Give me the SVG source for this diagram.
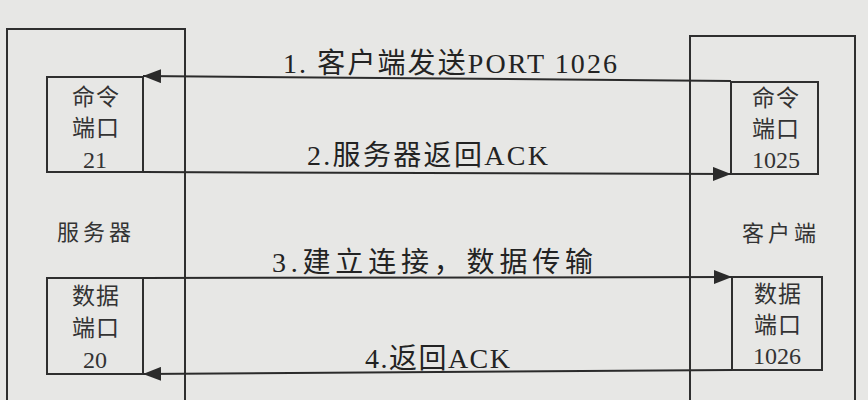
<svg xmlns="http://www.w3.org/2000/svg" width="868" height="400" viewBox="0 0 868 400">
  <defs>
    <marker id="ah" viewBox="0 0 18 14" refX="18" refY="7" markerWidth="18" markerHeight="14" markerUnits="userSpaceOnUse" orient="auto">
      <path d="M0,0 L18,7 L0,14 Z" fill="#2b2b2b"/>
    </marker>
    <style>
      .box { fill: none; stroke: #2f2f2f; stroke-width: 2; }
      .conn { fill: none; stroke: #2b2b2b; stroke-width: 2; marker-end: url(#ah); }
      .port { font-family: "Noto Sans CJK SC", sans-serif; font-size: 23px; fill: #333; text-anchor: middle; letter-spacing: 1px; }
      .num { font-family: "Liberation Serif", serif; font-size: 24px; fill: #333; text-anchor: middle; }
      .name { font-family: "Noto Sans CJK SC", sans-serif; font-size: 22px; fill: #333; letter-spacing: 4px; }
      .lbl { font-family: "Liberation Serif", "Noto Sans CJK SC", serif; font-size: 28px; fill: #232323; }
    </style>
  </defs>
  <rect width="868" height="400" fill="#e7e7e5"/>

  <g id="server">
    <rect class="box" x="7" y="29" width="178" height="400"/>
    <text class="name" x="57" y="240">服务器</text>
  </g>
  <g id="client">
    <rect class="box" x="690" y="36" width="165" height="400"/>
    <text class="name" x="742" y="241">客户端</text>
  </g>

  <g id="server-cmd-port">
    <rect class="box" x="47" y="77" width="96" height="95"/>
    <text class="port" x="96" y="105">命令</text>
    <text class="port" x="96" y="136">端口</text>
    <text class="num" x="95" y="168">21</text>
  </g>
  <g id="client-cmd-port">
    <rect class="box" x="731" y="82" width="87" height="92"/>
    <text class="port" x="776" y="106">命令</text>
    <text class="port" x="776" y="137">端口</text>
    <text class="num" x="776" y="168">1025</text>
  </g>
  <g id="server-data-port">
    <rect class="box" x="47" y="278" width="96" height="96"/>
    <text class="port" x="96" y="304">数据</text>
    <text class="port" x="96" y="336">端口</text>
    <text class="num" x="95" y="368">20</text>
  </g>
  <g id="client-data-port">
    <rect class="box" x="732" y="277" width="90" height="93"/>
    <text class="port" x="778" y="302">数据</text>
    <text class="port" x="778" y="333">端口</text>
    <text class="num" x="777" y="364">1026</text>
  </g>

  <g id="connectors">
    <line class="conn" x1="731" y1="81" x2="143" y2="76"/>
    <line class="conn" x1="143" y1="172" x2="731" y2="174"/>
    <line class="conn" x1="143" y1="278" x2="732" y2="277"/>
    <line class="conn" x1="732" y1="370" x2="143" y2="374"/>
    <text class="lbl" x="283" y="73" textLength="334">1. 客户端发送PORT 1026</text>
    <text class="lbl" x="307" y="165" textLength="241">2.服务器返回ACK</text>
    <text class="lbl" x="272" y="272" textLength="321">3.建立连接，数据传输</text>
    <text class="lbl" x="365" y="368" textLength="145">4.返回ACK</text>
  </g>
</svg>
